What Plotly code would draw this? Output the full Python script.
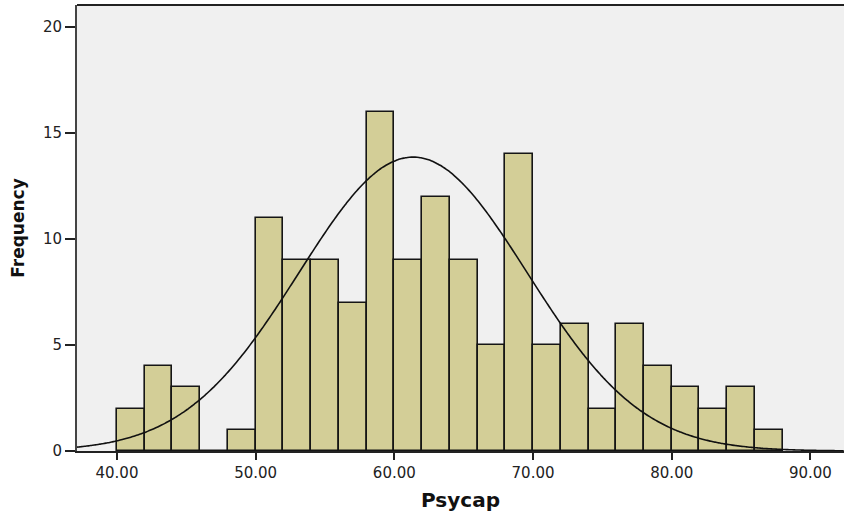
import numpy as np
import plotly.graph_objects as go

bin_starts = [40, 42, 44, 46, 48, 50, 52, 54, 56, 58, 60, 62, 64, 66, 68, 70, 72, 74, 76, 78, 80, 82, 84, 86]
counts = [2, 4, 3, 0, 1, 11, 9, 9, 7, 16, 9, 12, 9, 5, 14, 5, 6, 2, 6, 4, 3, 2, 3, 1]
bin_width = 2
x_ticks = [40, 50, 60, 70, 80, 90]
x_tick_labels = ["40.00", "50.00", "60.00", "70.00", "80.00", "90.00"]
y_ticks = [0, 5, 10, 15, 20]

mean_val = 61.35
sd_val = 8.23
n_total = sum(counts)

centers = [s + bin_width / 2 for s in bin_starts]
xs = np.linspace(37.12, 92.4, 400)
ys = n_total * bin_width / (sd_val * np.sqrt(2 * np.pi)) * np.exp(-0.5 * ((xs - mean_val) / sd_val) ** 2)

FONT = "DejaVu Sans, Liberation Sans, Arial, sans-serif"

fig = go.Figure()
fig.add_trace(go.Bar(
    x=centers, y=counts, width=bin_width,
    marker=dict(color="#d3ce97", line=dict(color="#151515", width=1.6)),
    hoverinfo="x+y", showlegend=False,
))
fig.add_trace(go.Scatter(
    x=xs, y=ys, mode="lines",
    line=dict(color="#111111", width=1.6, shape="spline"),
    showlegend=False, hoverinfo="skip",
))

fig.update_layout(
    width=844, height=517,
    margin=dict(l=77, r=0, t=5, b=66),
    paper_bgcolor="white",
    plot_bgcolor="#f0f0f0",
    bargap=0,
    font=dict(family=FONT, color="#222222", size=15),
    xaxis=dict(
        range=[37.12, 92.42],
        tickvals=x_ticks, ticktext=x_tick_labels,
        ticks="outside", ticklen=7, tickwidth=1.5, tickcolor="#222222",
        showgrid=False, zeroline=False,
        showline=True, linecolor="#222222", linewidth=1.5,
        tickfont=dict(family=FONT, size=15, color="#222222"),
        title=dict(text="<b>Psycap</b>", font=dict(family=FONT, size=20, color="#111111"), standoff=12),
    ),
    yaxis=dict(
        range=[0, 21.04],
        tickvals=y_ticks,
        ticks="outside", ticklen=10, tickwidth=1.5, tickcolor="#222222",
        showgrid=False, zeroline=False,
        showline=True, linecolor="#444444", linewidth=2,
        tickfont=dict(family=FONT, size=15, color="#222222"),
        title=dict(text="<b>Frequency</b>", font=dict(family=FONT, size=17, color="#111111"), standoff=14),
    ),
    shapes=[dict(type="line", xref="paper", yref="paper", x0=0, x1=1, y0=1, y1=1,
                 line=dict(color="#222222", width=2))],
)

fig.write_html("out.html", config={"displayModeBar": False},
               post_script="document.body.style.margin='0';")
